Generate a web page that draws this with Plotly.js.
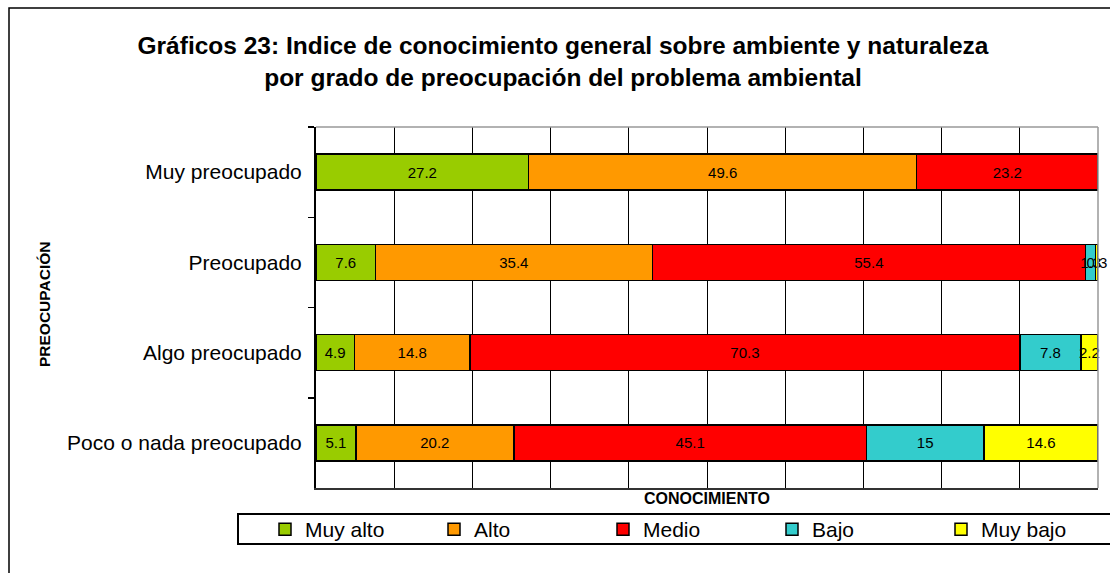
<!DOCTYPE html>
<html><head><meta charset="utf-8">
<script src="https://cdn.plot.ly/plotly-3.0.1.min.js"></script>
<style>html,body{margin:0;padding:0;background:#fff;}#chart{width:1110px;height:573px;}</style>
</head><body><div id="chart"></div>
<script>
const categories = ["Muy preocupado", "Preocupado", "Algo preocupado", "Poco o nada preocupado"];
const seriesNames = ["Muy alto", "Alto", "Medio", "Bajo", "Muy bajo"];
const muyAlto = [27.2, 7.6, 4.9, 5.1];
const alto = [49.6, 35.4, 14.8, 20.2];
const medio = [23.2, 55.4, 70.3, 45.1];
const bajo = [null, 1.3, 7.8, 15];
const muyBajo = [null, 0.3, 2.2, 14.6];
const colors = ["#99CC00", "#FF9900", "#FF0000", "#33CCCC", "#FFFF00"];
const allSeries = [muyAlto, alto, medio, bajo, muyBajo];

const FONT = 'Liberation Sans, Arial, sans-serif';

const traces = allSeries.map((vals, i) => ({
  type: 'bar', orientation: 'h', name: seriesNames[i],
  y: categories, x: vals,
  text: vals.map(v => v == null ? '' : String(v)),
  textposition: 'inside', insidetextanchor: 'middle', textangle: 0,
  constraintext: 'none', cliponaxis: false,
  textfont: {family: FONT, size: 15, color: '#000'},
  marker: {color: colors[i], line: {color: '#000', width: 1.5}},
  hoverinfo: 'x+y+name'
}));

const L = 316, T = 127, R = 12, B = 85;
const pw = 1110 - L - R, ph = 573 - T - B;
const px = v => (v - L) / pw;
const py = v => (573 - B - v) / ph;

const layout = {
  width: 1110, height: 573,
  margin: {l: L, r: R, t: T, b: B, pad: 0},
  barmode: 'stack', bargap: 0.6,
  paper_bgcolor: '#fff', plot_bgcolor: '#fff',
  font: {family: FONT, color: '#000'},
  uniformtext: {mode: 'show', minsize: 15},
  title: {
    text: '<b>Gráficos 23: Indice de conocimiento general sobre ambiente y naturaleza<br>por grado de preocupación del problema ambiental</b>',
    font: {size: 24.5, color: '#000'}, x: 563/1110, xanchor: 'center', y: 1 - 54/573, yanchor: 'middle'
  },
  xaxis: {
    range: [0, 100], dtick: 10, showticklabels: false, ticks: '',
    showgrid: true, gridcolor: '#000', gridwidth: 1,
    zeroline: false, showline: true, linecolor: '#333', linewidth: 1.5,
    fixedrange: true,
    title: {text: '<b>CONOCIMIENTO</b>', font: {size: 16}, standoff: 4}
  },
  yaxis: {
    type: 'category', categoryorder: 'array', categoryarray: categories,
    autorange: 'reversed',
    ticks: 'outside', tickson: 'boundaries', ticklen: 6, tickcolor: '#000', tickwidth: 1.5,
    showgrid: false, showline: true, linecolor: '#000', linewidth: 2, zeroline: false,
    tickfont: {size: 21}, ticklabelstandoff: 8,
    fixedrange: true
  },
  showlegend: true,
  legend: {
    orientation: 'h', x: px(279), xanchor: 'left', y: py(509), yanchor: 'top',
    borderwidth: 0, bgcolor: 'rgba(0,0,0,0)',
    font: {size: 21}, entrywidth: 124, entrywidthmode: 'pixels',
    traceorder: 'normal'
  },
  annotations: [
    {text: '<b>PREOCUPACIÓN</b>', xref: 'paper', yref: 'paper', x: px(44), y: (py(240) + py(370)) / 2,
     xanchor: 'center', yanchor: 'middle', textangle: -90, showarrow: false, font: {size: 15.5}}
  ],
  shapes: [
    {type: 'line', xref: 'paper', yref: 'paper', x0: 0, x1: 1, y0: 1, y1: 1, line: {color: '#999', width: 1.5}},
    {type: 'line', xref: 'paper', yref: 'paper', x0: 1, x1: 1, y0: 0, y1: 1, line: {color: '#999', width: 1.5}},
    {type: 'rect', xref: 'paper', yref: 'paper', x0: px(9), x1: px(1130), y0: py(8), y1: py(600), line: {color: '#000', width: 1.5}, fillcolor: 'rgba(0,0,0,0)', layer: 'below'},
    {type: 'rect', xref: 'paper', yref: 'paper', x0: px(238), x1: px(1130), y0: py(514), y1: py(544), line: {color: '#000', width: 2}, fillcolor: 'rgba(0,0,0,0)', layer: 'below'}
  ]
};

Plotly.newPlot('chart', traces, layout, {displayModeBar: false, staticPlot: true});
</script></body></html>
